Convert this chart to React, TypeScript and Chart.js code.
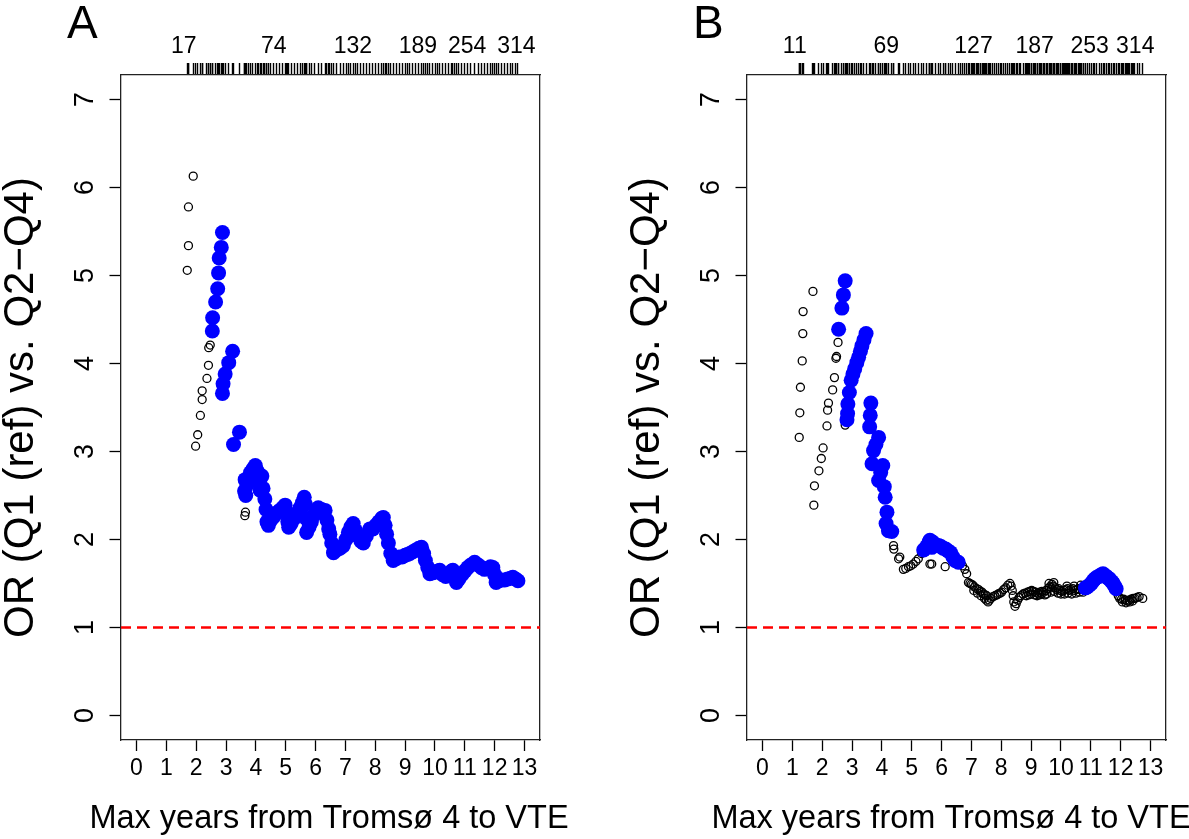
import React, { useEffect, useRef } from "react";
import { Chart, registerables } from "chart.js";

Chart.register(...registerables);

const FONT = '"Liberation Sans", Arial, Helvetica, sans-serif';

// ---- axes ----
const X_MIN = -0.52;
const X_MAX = 13.52;
const Y_MIN = -0.28;
const Y_MAX = 7.28;
const X_TICKS = [0, 1, 2, 3, 4, 5, 6, 7, 8, 9, 10, 11, 12, 13];
const Y_TICKS = [0, 1, 2, 3, 4, 5, 6, 7];
const REF_OR = 1;
const X_TITLE = "Max years from Tromsø 4 to VTE";
const Y_TITLE = "OR (Q1 (ref) vs. Q2\u2212Q4)";

// ---- Panel A ----
const A_NS_YEARS = [1.70, 1.74, 1.74, 1.90, 1.98, 2.05, 2.14, 2.20, 2.20, 2.36, 2.41, 2.42, 2.47, 3.63, 3.65];
const A_NS_OR = [5.06, 5.34, 5.78, 6.13, 3.06, 3.19, 3.41, 3.59, 3.69, 3.83, 3.98, 4.18, 4.21, 2.27, 2.31];
const A_SIG_YEARS = [
  2.54, 2.55, 2.65, 2.72, 2.75, 2.77, 2.84, 2.88, 2.88, 2.90, 2.97, 3.09, 3.22, 3.25, 3.45,
  3.62, 3.64, 3.66, 3.70, 3.76, 3.82, 3.90, 3.98, 4.04, 4.10, 4.14, 4.20, 4.24, 4.30, 4.34, 4.37, 4.42, 4.50, 4.60, 4.70, 4.80, 4.90, 4.98,
  5.03, 5.07, 5.10, 5.18, 5.28, 5.38, 5.48, 5.56, 5.62, 5.66, 5.68, 5.70, 5.78, 5.86, 5.96,
  6.09, 6.20, 6.32, 6.38, 6.44, 6.48, 6.54, 6.60, 6.70, 6.82, 6.93,
  7.02, 7.10, 7.18, 7.26, 7.34, 7.42, 7.52, 7.60, 7.70, 7.82, 7.92,
  8.02, 8.12, 8.22, 8.27, 8.33, 8.38, 8.44, 8.52, 8.60, 8.70, 8.80, 8.90,
  9.00, 9.08, 9.16, 9.26, 9.36, 9.46, 9.55, 9.62, 9.68, 9.76, 9.83, 9.92,
  10.02, 10.10, 10.16, 10.26, 10.36, 10.46, 10.56, 10.60, 10.66, 10.72, 10.80, 10.90,
  11.00, 11.10, 11.20, 11.33, 11.45, 11.56, 11.66, 11.76, 11.86, 11.94,
  12.00, 12.05, 12.14, 12.24, 12.34, 12.44, 12.54, 12.61, 12.70, 12.78,
];
const A_SIG_OR = [
  4.37, 4.52, 4.70, 4.85, 5.03, 5.20, 5.32, 5.49, 3.66, 3.77, 3.88, 4.01, 4.14, 3.08, 3.22,
  2.55, 2.68, 2.50, 2.62, 2.70, 2.76, 2.80, 2.84, 2.78, 2.66, 2.56, 2.72, 2.58, 2.46, 2.34, 2.20, 2.16, 2.22, 2.26, 2.30, 2.33, 2.36, 2.39,
  2.30, 2.20, 2.14, 2.18, 2.24, 2.30, 2.36, 2.42, 2.48, 2.40, 2.24, 2.08, 2.14, 2.20, 2.28,
  2.36, 2.34, 2.33, 2.22, 2.12, 2.06, 1.96, 1.85, 1.88, 1.90, 1.93,
  2.00, 2.08, 2.14, 2.18, 2.10, 2.04, 1.98, 1.96, 2.04, 2.12, 2.12,
  2.16, 2.20, 2.24, 2.25, 2.16, 2.06, 1.96, 1.84, 1.76, 1.78, 1.80, 1.80,
  1.82, 1.83, 1.84, 1.86, 1.88, 1.90, 1.91, 1.84, 1.76, 1.68, 1.61, 1.62,
  1.63, 1.64, 1.65, 1.60, 1.58, 1.60, 1.64, 1.65, 1.57, 1.51, 1.55, 1.60,
  1.64, 1.68, 1.71, 1.74, 1.71, 1.68, 1.66, 1.67, 1.69, 1.68,
  1.60, 1.51, 1.53, 1.54, 1.54, 1.55, 1.56, 1.57, 1.55, 1.53,
];
const A_TOP_POS = [1.58, 4.60, 7.25, 9.43, 11.08, 12.73];
const A_TOP_LABELS = ["17", "74", "132", "189", "254", "314"];

// ---- Panel B ----
const B_NS_YEARS = [
  1.23, 1.25, 1.27, 1.33, 1.35, 1.36, 1.69, 1.72, 1.74, 1.89, 1.97, 2.03, 2.16, 2.18, 2.21, 2.35, 2.41, 2.46, 2.48, 2.53, 2.77,
  4.39, 4.40, 4.56, 4.60, 4.72, 4.80, 4.89, 4.97, 5.05, 5.14, 5.22, 5.33, 5.61, 5.67, 6.12, 6.62, 6.70, 6.78, 6.84,
  6.90, 6.95, 7.00, 7.05, 7.10, 7.18, 7.24, 7.30, 7.36, 7.40, 7.46, 7.51, 7.56, 7.60, 7.65, 7.72, 7.79, 7.85, 7.90, 7.96,
  7.08, 7.20, 7.32, 7.44, 7.50,
  8.01, 8.08, 8.15, 8.22, 8.29, 8.33, 8.37, 8.40, 8.42, 8.46, 8.50, 8.55, 8.60, 8.66, 8.73, 8.80, 8.88, 8.95,
  8.84, 8.92, 9.00, 9.12, 9.20, 9.28, 9.34, 9.46, 9.52, 9.66, 9.78, 9.90,
  9.02, 9.08, 9.15, 9.22, 9.30, 9.36, 9.42, 9.50, 9.56, 9.62, 9.68, 9.74, 9.80, 9.86, 9.92, 9.98,
  9.60, 9.70, 9.76,
  10.04, 10.10, 10.16, 10.22, 10.28, 10.34, 10.40, 10.46, 10.52, 10.58, 10.64, 10.70, 10.76,
  10.00, 10.12, 10.24, 10.36, 10.50, 10.62, 10.74, 10.20, 10.44, 10.66,
  11.92, 11.97, 12.03, 12.10, 12.16, 12.22, 12.28, 12.35, 12.42, 12.48, 12.55, 12.62, 12.74,
  12.06, 12.18, 12.30, 12.40,
];
const B_NS_OR = [
  3.16, 3.44, 3.73, 4.03, 4.34, 4.59, 4.82, 2.39, 2.61, 2.78, 2.92, 3.04, 3.29, 3.47, 3.55, 3.70, 3.84, 4.06, 4.08, 4.24, 3.30,
  1.93, 1.89, 1.78, 1.80, 1.66, 1.67, 1.69, 1.70, 1.72, 1.75, 1.78, 1.84, 1.72, 1.72, 1.69, 1.72, 1.70, 1.66, 1.61,
  1.51, 1.50, 1.49, 1.48, 1.46, 1.44, 1.43, 1.41, 1.40, 1.38, 1.37, 1.36, 1.29, 1.31, 1.33, 1.35, 1.36, 1.37, 1.38, 1.39,
  1.42, 1.39, 1.36, 1.33, 1.31,
  1.40, 1.43, 1.45, 1.48, 1.50, 1.47, 1.42, 1.36, 1.29, 1.24, 1.27, 1.31, 1.34, 1.36, 1.38, 1.39, 1.40, 1.41,
  1.36, 1.37, 1.38, 1.37, 1.36, 1.37, 1.38, 1.37, 1.38, 1.40, 1.41, 1.39,
  1.42, 1.41, 1.40, 1.39, 1.40, 1.41, 1.40, 1.42, 1.44, 1.46, 1.45, 1.47, 1.45, 1.43, 1.44, 1.42,
  1.50, 1.49, 1.51,
  1.41, 1.42, 1.43, 1.44, 1.42, 1.43, 1.44, 1.42, 1.43, 1.44, 1.43, 1.44, 1.45,
  1.38, 1.38, 1.39, 1.38, 1.39, 1.40, 1.40, 1.47, 1.47, 1.48,
  1.36, 1.33, 1.32, 1.32, 1.31, 1.30, 1.31, 1.32, 1.33, 1.33, 1.34, 1.35, 1.33,
  1.29, 1.28, 1.29, 1.30,
];
const B_SIG_YEARS = [
  2.55, 2.66, 2.71, 2.77, 2.83, 2.85, 2.86, 2.91, 2.97, 3.03, 3.09, 3.16, 3.22, 3.28, 3.33, 3.40, 3.47,
  3.59, 3.61, 3.63, 3.67, 3.72, 3.80, 3.89, 3.89, 3.96, 4.03, 4.08, 4.11, 4.14, 4.17, 4.22, 4.33,
  5.40, 5.50, 5.58, 5.61, 5.67, 5.70, 5.80, 5.90, 5.98, 6.05, 6.14, 6.22, 6.30, 6.38, 6.45, 6.56,
  10.82, 10.88, 10.95, 11.02, 11.08, 11.13, 11.20, 11.28, 11.35, 11.41, 11.47, 11.52, 11.58, 11.63, 11.70, 11.75, 11.80, 11.85,
];
const B_SIG_OR = [
  4.39, 4.63, 4.78, 4.94, 3.36, 3.43, 3.54, 3.67, 3.81, 3.88, 3.94, 4.01, 4.07, 4.14, 4.20, 4.27, 4.34,
  3.28, 3.41, 3.55, 2.86, 3.01, 3.08, 3.16, 2.67, 2.76, 2.84, 2.60, 2.48, 2.18, 2.31, 2.10, 2.09,
  1.88, 1.92, 1.97, 1.99, 1.91, 1.97, 1.94, 1.93, 1.92, 1.90, 1.89, 1.87, 1.85, 1.80, 1.76, 1.74,
  1.45, 1.46, 1.48, 1.50, 1.53, 1.55, 1.57, 1.58, 1.60, 1.61, 1.59, 1.58, 1.56, 1.55, 1.52, 1.50, 1.47, 1.44,
];
const B_TOP_POS = [1.08, 4.15, 7.07, 9.12, 10.96, 12.49];
const B_TOP_LABELS = ["11", "69", "127", "187", "253", "314"];

const CANVAS_H = 839;
const AREA_LEFT = 121;
const AREA_RIGHT = 540;

type PanelProps = {
  letter: string;
  left: number;
  width: number;
  titleShift: number;
  nsYears: number[];
  nsOr: number[];
  sigYears: number[];
  sigOr: number[];
  topPos: number[];
  topLabels: string[];
};

function pts(xs: number[], ys: number[]) {
  const n = Math.min(xs.length, ys.length);
  const out: { x: number; y: number }[] = [];
  for (let i = 0; i < n; i++) out.push({ x: xs[i], y: ys[i] });
  return out;
}

function Panel(props: PanelProps) {
  const ref = useRef<HTMLCanvasElement | null>(null);

  useEffect(() => {
    if (!ref.current) return;
    const { letter, width, titleShift, nsYears, nsOr, sigYears, sigOr, topPos, topLabels } = props;

    const rug = [...nsYears, ...sigYears].sort((a, b) => a - b);
    const topTicks: { v: number; label: string }[] = [
      ...rug.map((v) => ({ v, label: "" })),
      ...topPos.map((v, i) => ({ v, label: topLabels[i] })),
    ];

    const axisBorder = { display: true, color: "#222", width: 1.3 };

    const textPlugin = {
      id: "panelText",
      afterDraw(chart: any) {
        const ctx = chart.ctx;
        const area = chart.chartArea;
        ctx.save();
        ctx.fillStyle = "#000";
        ctx.font = `46px ${FONT}`;
        ctx.textAlign = "left";
        ctx.textBaseline = "alphabetic";
        ctx.fillText(letter, 67, 38);
        ctx.font = `32.5px ${FONT}`;
        ctx.textAlign = "center";
        ctx.textBaseline = "middle";
        ctx.fillText(X_TITLE, (area.left + area.right) / 2 + titleShift, 819);
        ctx.restore();
      },
    };

    const chart = new Chart(ref.current, {
      type: "scatter",
      data: {
        datasets: [
          {
            label: "ref",
            data: [
              { x: X_MIN, y: REF_OR },
              { x: X_MAX, y: REF_OR },
            ],
            showLine: true,
            borderColor: "#ff0000",
            borderWidth: 2.5,
            borderDash: [10, 6],
            pointRadius: 0,
            pointHoverRadius: 0,
            fill: false,
          } as any,
          {
            label: "significant",
            data: pts(sigYears, sigOr),
            pointRadius: 7.5,
            pointHoverRadius: 7.5,
            backgroundColor: "#0000ff",
            borderColor: "#0000ff",
            pointBorderWidth: 0,
            borderWidth: 0,
          } as any,
          {
            label: "not significant",
            data: pts(nsYears, nsOr),
            pointRadius: 4,
            pointHoverRadius: 4,
            backgroundColor: "rgba(0,0,0,0)",
            borderColor: "#000",
            pointBorderWidth: 1.3,
            borderWidth: 1.3,
          } as any,
        ],
      },
      options: {
        animation: false,
        responsive: false,
        devicePixelRatio: 1,
        layout: { padding: { left: 0, top: 0, bottom: 0, right: width - AREA_RIGHT } },
        font: { family: FONT },
        plugins: {
          legend: { display: false },
          tooltip: { enabled: false },
        },
        scales: {
          x: {
            type: "linear",
            position: "bottom",
            min: X_MIN,
            max: X_MAX,
            afterBuildTicks: (s: any) => {
              s.ticks = X_TICKS.map((v) => ({ value: v }));
            },
            afterFit: (s: any) => {
              s.height = 99;
            },
            ticks: {
              autoSkip: false,
              maxRotation: 0,
              minRotation: 0,
              padding: 3.5,
              color: "#000",
              font: { family: FONT, size: 23 },
              callback: (v: any) => String(v),
            },
            grid: {
              drawOnChartArea: false,
              drawTicks: true,
              tickLength: 11,
              tickColor: "#000",
              tickWidth: 1.3,
            },
            border: axisBorder,
            title: { display: false },
          },
          x2: {
            type: "linear",
            position: "top",
            axis: "x",
            min: X_MIN,
            max: X_MAX,
            afterBuildTicks: (s: any) => {
              s.ticks = topTicks.map((t) => ({ value: t.v }));
            },
            afterFit: (s: any) => {
              s.height = 75;
            },
            ticks: {
              autoSkip: false,
              maxRotation: 0,
              minRotation: 0,
              padding: 3,
              color: "#000",
              font: { family: FONT, size: 23 },
              callback: (_v: any, i: number) => (topTicks[i] ? topTicks[i].label : ""),
            },
            grid: {
              drawOnChartArea: false,
              drawTicks: true,
              tickLength: 12,
              tickColor: (c: any) =>
                topTicks[c.index] && topTicks[c.index].label ? "rgba(0,0,0,0)" : "#000",
              tickWidth: 1.4,
            },
            border: axisBorder,
          },
          y: {
            type: "linear",
            position: "left",
            min: Y_MIN,
            max: Y_MAX,
            afterBuildTicks: (s: any) => {
              s.ticks = Y_TICKS.map((v) => ({ value: v }));
            },
            afterFit: (s: any) => {
              s.width = AREA_LEFT;
            },
            ticks: {
              autoSkip: false,
              minRotation: 90,
              maxRotation: 90,
              crossAlign: "center",
              padding: 16.5,
              color: "#000",
              font: { family: FONT, size: 27 },
              callback: (v: any) => String(v),
            },
            grid: {
              drawOnChartArea: false,
              drawTicks: true,
              tickLength: 11.5,
              tickColor: "#000",
              tickWidth: 1.3,
            },
            border: axisBorder,
            title: {
              display: true,
              text: Y_TITLE,
              color: "#000",
              font: { family: FONT, size: 42, lineHeight: 1 },
              padding: { top: 0, bottom: 0 },
            },
          },
          y2: {
            type: "linear",
            position: "right",
            axis: "y",
            min: Y_MIN,
            max: Y_MAX,
            afterFit: (s: any) => {
              s.width = 0;
            },
            ticks: { display: false },
            grid: { display: false, drawTicks: false },
            border: axisBorder,
          },
        },
      } as any,
      plugins: [textPlugin],
    });

    return () => chart.destroy();
  }, []);

  return (
    <canvas
      ref={ref}
      width={props.width}
      height={CANVAS_H}
      style={{
        position: "absolute",
        left: props.left,
        top: 0,
        width: props.width,
        height: CANVAS_H,
        display: "block",
      }}
    />
  );
}

export default function App() {
  return (
    <div
      style={{
        position: "absolute",
        left: 0,
        top: 0,
        width: 1189,
        height: 839,
        background: "#fff",
        overflow: "hidden",
      }}
    >
      <Panel
        letter="A"
        left={0}
        width={626}
        titleShift={-1.5}
        nsYears={A_NS_YEARS}
        nsOr={A_NS_OR}
        sigYears={A_SIG_YEARS}
        sigOr={A_SIG_OR}
        topPos={A_TOP_POS}
        topLabels={A_TOP_LABELS}
      />
      <Panel
        letter="B"
        left={626}
        width={563}
        titleShift={-5.5}
        nsYears={B_NS_YEARS}
        nsOr={B_NS_OR}
        sigYears={B_SIG_YEARS}
        sigOr={B_SIG_OR}
        topPos={B_TOP_POS}
        topLabels={B_TOP_LABELS}
      />
    </div>
  );
}
